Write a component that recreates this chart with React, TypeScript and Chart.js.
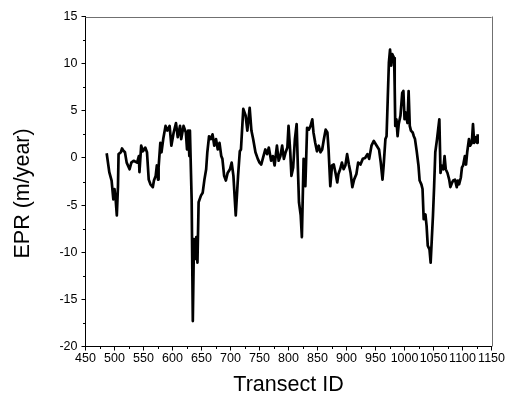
import React, { useEffect, useRef } from "react";
import { Chart, registerables } from "chart.js";

Chart.register(...registerables);

const transectIds: number[] = [
  486.5, 491, 495, 498, 500, 502, 504, 506, 507, 511, 513, 515, 518, 521, 526, 529, 533, 539, 542, 543,
  546, 549, 553, 556, 559, 562, 566, 568, 571, 573, 575, 576, 579, 581, 584, 588, 591, 595, 598, 602,
  606, 609, 613, 615, 619, 623, 625, 627, 629, 630, 633, 635, 637, 639, 641, 643, 645, 649, 652, 655,
  658, 660, 663, 666, 669, 672, 675, 678, 681, 684, 686, 689, 692, 695, 699, 702, 705, 709, 713, 716,
  718, 722, 726, 729, 733, 736, 739, 743, 747, 750, 753, 756, 760, 763, 766, 770, 773, 776, 780, 783,
  786, 789, 792, 795, 798, 800, 803, 805, 808, 811, 814, 816, 818, 821, 823, 826, 829, 832, 835, 838,
  841, 843, 846, 849, 852, 855, 858, 861, 864, 867, 869, 872, 875, 878, 881, 884, 886, 889, 892, 895,
  898, 901, 904, 907, 910, 913, 917, 920, 924, 928, 932, 936, 939, 943, 947, 952, 956, 959, 962, 964,
  967, 969, 971, 973, 975, 977, 979, 982, 983, 984, 986, 988, 990, 993, 996, 998, 1000, 1002, 1005, 1007,
  1009, 1011, 1014, 1016, 1018, 1021, 1024, 1026, 1029, 1031, 1033, 1036, 1038, 1040, 1043, 1045, 1047, 1049, 1051, 1053,
  1056, 1060, 1062, 1064, 1067, 1069, 1071, 1074, 1077, 1079, 1082, 1084, 1087, 1090, 1092, 1094, 1097, 1099, 1101, 1104,
  1106, 1108, 1111, 1113, 1116, 1118, 1120, 1123, 1125, 1126,
];

const eprValues: number[] = [
  0.5, -1.5, -2.4, -4.4, -3.3, -4.4, -6.1, -3.0, 0.4, 0.6, 1.0, 0.8, 0.6, -0.5, -1.2, -0.5, -0.3, -0.5, 0.2, -1.5,
  1.3, 0.7, 1.1, 0.6, -2.3, -2.8, -3.1, -2.4, -1.9, -0.8, -2.3, -1.0, 1.6, 0.6, 2.0, 3.4, 2.9, 3.4, 1.3, 2.7,
  3.7, 2.2, 3.4, 2.0, 3.4, 2.7, 0.9, 2.9, 0.2, 2.9, -4.4, -17.3, -8.6, -10.7, -8.4, -11.1, -4.7, -4.0, -3.7, -2.3,
  -1.2, 0.6, 2.3, 2.0, 2.5, 1.3, 2.0, 0.9, 1.6, 0.2, -0.1, -1.9, -2.4, -1.6, -1.2, -0.5, -1.9, -6.1, -1.9, 0.7,
  0.9, 5.2, 4.5, 2.9, 5.3, 2.9, 2.0, 0.6, -0.1, -0.5, -0.7, 0.0, 0.9, 0.4, 1.1, -0.3, 0.2, -0.8, 1.3, -0.3,
  0.2, 1.3, -0.1, 0.6, 1.1, 3.4, 0.6, -1.9, -1.0, 2.0, 3.6, -0.8, -4.7, -6.1, -8.4, -0.1, -3.0, 3.2, 3.0, 3.4,
  4.1, 2.7, 1.6, 0.7, 1.3, 0.6, 0.9, 2.0, 3.0, 2.7, 0.9, -3.0, -0.8, -0.7, -1.6, -2.6, -1.7, -1.2, -0.5, -1.2,
  -0.8, 0.4, -0.7, -1.6, -3.1, -2.3, -1.7, -0.5, -0.7, -0.1, 0.0, 0.4, -0.1, 1.3, 1.8, 1.3, 0.9, -0.5, -2.3, -0.8,
  2.0, 2.3, 6.2, 10.1, 11.5, 9.8, 11.0, 10.6, 7.6, 3.4, 4.1, 2.3, 3.6, 4.5, 6.9, 7.1, 4.1, 4.8, 3.7, 7.1,
  3.4, 2.9, 2.7, 2.3, 2.0, 0.7, -0.8, -2.4, -2.8, -3.3, -6.5, -6.0, -7.2, -9.3, -9.7, -11.1, -8.6, -6.1, -3.0, 0.6,
  2.0, 4.1, -1.6, -0.8, -1.2, 0.2, -1.2, -1.6, -2.3, -3.1, -2.6, -2.4, -2.3, -3.1, -2.4, -2.8, -2.1, -1.0, -0.8, 0.2,
  -0.7, 0.6, 2.0, 1.3, 1.6, 3.6, 1.6, 2.2, 1.6, 2.5,
];

const xMin = 450;
const xMax = 1150;
const xStep = 50;
const yMin = -20;
const yMax = 15;
const yStep = 5;

const xAxisTitle = "Transect ID";
const yAxisTitle = "EPR (m/year)    ";

const FONT = "'Liberation Sans', Arial, Helvetica, sans-serif";

const frameAndMinorTicks = {
  id: "frameAndMinorTicks",
  afterDraw(chart: any) {
    const { ctx, chartArea, scales } = chart;
    const xs = scales.x;
    const ys = scales.y;
    ctx.save();
    ctx.strokeStyle = "#707070";
    ctx.lineWidth = 1;
    ctx.beginPath();
    ctx.moveTo(chartArea.left, Math.round(chartArea.top) + 0.5);
    ctx.lineTo(chartArea.right, Math.round(chartArea.top) + 0.5);
    ctx.moveTo(Math.round(chartArea.right) + 0.5, chartArea.top);
    ctx.lineTo(Math.round(chartArea.right) + 0.5, chartArea.bottom);
    ctx.stroke();
    ctx.strokeStyle = "#000";
    ctx.beginPath();
    for (let v = xMin + xStep / 2; v < xMax; v += xStep) {
      const px = Math.round(xs.getPixelForValue(v)) + 0.5;
      ctx.moveTo(px, chartArea.bottom);
      ctx.lineTo(px, chartArea.bottom + 2.5);
    }
    for (let v = yMin + yStep / 2; v < yMax; v += yStep) {
      const py = Math.round(ys.getPixelForValue(v)) + 0.5;
      ctx.moveTo(chartArea.left, py);
      ctx.lineTo(chartArea.left - 2.5, py);
    }
    ctx.stroke();
    ctx.restore();
  },
};

export default function App() {
  const ref = useRef<HTMLCanvasElement | null>(null);

  useEffect(() => {
    if (!ref.current) return;
    const points = transectIds.map((x, i) => ({ x, y: eprValues[i] }));
    const chart = new Chart(ref.current, {
      type: "line",
      data: {
        datasets: [
          {
            data: points,
            borderColor: "#000",
            borderWidth: 2.7,
            pointRadius: 0,
            tension: 0,
            borderJoinStyle: "round",
            fill: false,
          },
        ],
      },
      options: {
        animation: false,
        responsive: false,
        maintainAspectRatio: false,
        layout: { padding: { left: 0, right: 14, top: 16.5, bottom: 0 } },
        plugins: {
          legend: { display: false },
          tooltip: { enabled: false },
        },
        scales: {
          x: {
            type: "linear",
            min: xMin,
            max: xMax,
            ticks: {
              stepSize: xStep,
              autoSkip: false,
              maxRotation: 0,
              minRotation: 0,
              color: "#000",
              padding: 1,
              font: { family: FONT, size: 12.5 },
              callback: (v: any) => String(v),
            },
            grid: {
              drawOnChartArea: false,
              drawTicks: true,
              tickLength: 4,
              color: "#000",
            },
            border: { display: true, color: "#000", width: 1 },
            title: {
              display: true,
              text: xAxisTitle,
              color: "#000",
              font: { family: FONT, size: 21.5 },
              padding: { top: 0, bottom: 0 },
            },
            afterFit: (scale: any) => {
              scale.height = 51.5;
            },
          },
          y: {
            type: "linear",
            min: yMin,
            max: yMax,
            ticks: {
              stepSize: yStep,
              color: "#000",
              padding: 4,
              font: { family: FONT, size: 12.5 },
              callback: (v: any) => String(v),
            },
            grid: {
              drawOnChartArea: false,
              drawTicks: true,
              tickLength: 4,
              color: "#000",
            },
            border: { display: true, color: "#000", width: 1 },
            title: {
              display: true,
              text: yAxisTitle,
              color: "#000",
              font: { family: FONT, size: 21.5 },
              padding: { top: 10, bottom: 0 },
            },
            afterFit: (scale: any) => {
              scale.width = 85.5;
            },
          },
        },
      },
      plugins: [frameAndMinorTicks],
    });
    return () => chart.destroy();
  }, []);

  return (
    <div style={{ position: "absolute", left: 0, top: 0, width: 506, height: 398, background: "#fff" }}>
      <canvas ref={ref} width={506} height={398} style={{ display: "block" }} />
    </div>
  );
}
